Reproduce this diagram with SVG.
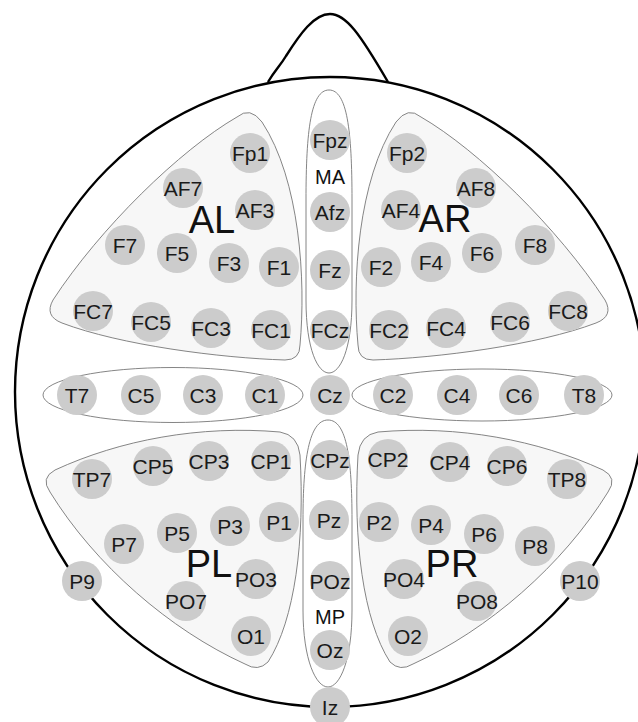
<svg xmlns="http://www.w3.org/2000/svg" width="638" height="722" viewBox="0 0 638 722">
<style>
.head{fill:none;stroke:#000;stroke-width:2.4}
.reg{fill:#f7f7f7;stroke:#777;stroke-width:0.9}
.regw{fill:#fff;stroke:#777;stroke-width:0.9}
.el circle{fill:#cccccc}
.el text{font-family:"Liberation Sans",Arial,sans-serif;font-size:21px;fill:#1a1a1a;text-anchor:middle}
.big{font-family:"Liberation Sans",Arial,sans-serif;font-size:38px;fill:#111;text-anchor:middle}
.mid{font-family:"Liberation Sans",Arial,sans-serif;font-size:20px;fill:#111;text-anchor:middle}
</style>
<rect width="638" height="722" fill="#fff"/>
<g id="head">
<path class="head" d="M 268,82 C 275,70 280,66 286,56 C 300,34 314,14 330,14 C 346,14 360,34 388,82"/>
<circle class="head" cx="330" cy="392" r="315"/>
</g>
<g id="region-AL"><path class="reg" d="M 237,117 C 180,150 100,228 53,300 Q 44,316 62,323 C 120,345 220,358 285,360 Q 300,360 300,345 C 306,280 300,180 262,122 Q 250,106 237,117 Z"/></g>
<g id="region-AR"><path class="reg" transform="translate(658,0) scale(-1,1)" d="M 237,117 C 180,150 100,228 53,300 Q 44,316 62,323 C 120,345 220,358 285,360 Q 300,360 300,345 C 306,280 300,180 262,122 Q 250,106 237,117 Z"/></g>
<g id="region-PL"><path class="reg" d="M 55,470 C 120,440 200,425 280,432 Q 298,435 300,455 C 305,540 295,620 268,662 Q 258,672 245,664 C 170,630 95,565 50,492 Q 40,478 55,470 Z"/></g>
<g id="region-PR"><path class="reg" transform="translate(658,0) scale(-1,1)" d="M 55,470 C 120,440 200,425 280,432 Q 298,435 300,455 C 305,540 295,620 268,662 Q 258,672 245,664 C 170,630 95,565 50,492 Q 40,478 55,470 Z"/></g>
<g id="region-MA"><path class="regw" d="M 329,90 C 347,90 352,130 352,200 L 352,300 C 352,350 340,373 329,373 C 318,373 306,350 306,300 L 306,200 C 306,130 311,90 329,90 Z"/></g>
<g id="region-MP"><path class="regw" d="M 328,420 C 347,420 352,460 352,520 L 352,610 C 352,660 340,687 328,687 C 316,687 303,660 303,610 L 303,520 C 303,460 309,420 328,420 Z"/></g>
<g id="region-CL"><ellipse class="regw" cx="173" cy="395" rx="130" ry="27.5"/></g>
<g id="region-CR"><ellipse class="regw" cx="482" cy="395" rx="130" ry="26"/></g>
<g id="labels">
<text class="big" x="212" y="233">AL</text>
<text class="big" x="445" y="232">AR</text>
<text class="big" x="209" y="577">PL</text>
<text class="big" x="452" y="577">PR</text>
<text class="mid" x="330" y="184">MA</text>
<text class="mid" x="330" y="624">MP</text>
</g>
<g id="connectors"/>
<g id="Fp1" class="el"><circle cx="250" cy="153" r="20"/><text x="250" y="160.5">Fp1</text></g>
<g id="Fpz" class="el"><circle cx="330" cy="140" r="20"/><text x="330" y="147.5">Fpz</text></g>
<g id="Fp2" class="el"><circle cx="407" cy="153" r="20"/><text x="407" y="160.5">Fp2</text></g>
<g id="AF7" class="el"><circle cx="183" cy="188" r="20"/><text x="183" y="195.5">AF7</text></g>
<g id="AF3" class="el"><circle cx="255" cy="210" r="20"/><text x="255" y="217.5">AF3</text></g>
<g id="Afz" class="el"><circle cx="330" cy="212" r="20"/><text x="330" y="219.5">Afz</text></g>
<g id="AF4" class="el"><circle cx="401" cy="210" r="20"/><text x="401" y="217.5">AF4</text></g>
<g id="AF8" class="el"><circle cx="476" cy="188" r="20"/><text x="476" y="195.5">AF8</text></g>
<g id="F7" class="el"><circle cx="125" cy="245" r="20"/><text x="125" y="252.5">F7</text></g>
<g id="F5" class="el"><circle cx="177" cy="253" r="20"/><text x="177" y="260.5">F5</text></g>
<g id="F3" class="el"><circle cx="229" cy="263" r="20"/><text x="229" y="270.5">F3</text></g>
<g id="F1" class="el"><circle cx="279" cy="267" r="20"/><text x="279" y="274.5">F1</text></g>
<g id="Fz" class="el"><circle cx="330" cy="270" r="20"/><text x="330" y="277.5">Fz</text></g>
<g id="F2" class="el"><circle cx="381" cy="267" r="20"/><text x="381" y="274.5">F2</text></g>
<g id="F4" class="el"><circle cx="431" cy="262" r="20"/><text x="431" y="269.5">F4</text></g>
<g id="F6" class="el"><circle cx="482" cy="253" r="20"/><text x="482" y="260.5">F6</text></g>
<g id="F8" class="el"><circle cx="535" cy="245" r="20"/><text x="535" y="252.5">F8</text></g>
<g id="FC7" class="el"><circle cx="93" cy="311" r="20"/><text x="93" y="318.5">FC7</text></g>
<g id="FC5" class="el"><circle cx="151" cy="322" r="20"/><text x="151" y="329.5">FC5</text></g>
<g id="FC3" class="el"><circle cx="211" cy="328" r="20"/><text x="211" y="335.5">FC3</text></g>
<g id="FC1" class="el"><circle cx="271" cy="330" r="20"/><text x="271" y="337.5">FC1</text></g>
<g id="FCz" class="el"><circle cx="330" cy="330" r="20"/><text x="330" y="337.5">FCz</text></g>
<g id="FC2" class="el"><circle cx="389" cy="330" r="20"/><text x="389" y="337.5">FC2</text></g>
<g id="FC4" class="el"><circle cx="446" cy="328" r="20"/><text x="446" y="335.5">FC4</text></g>
<g id="FC6" class="el"><circle cx="510" cy="322" r="20"/><text x="510" y="329.5">FC6</text></g>
<g id="FC8" class="el"><circle cx="568" cy="311" r="20"/><text x="568" y="318.5">FC8</text></g>
<g id="T7" class="el"><circle cx="77" cy="395" r="20"/><text x="77" y="402.5">T7</text></g>
<g id="C5" class="el"><circle cx="141" cy="395" r="20"/><text x="141" y="402.5">C5</text></g>
<g id="C3" class="el"><circle cx="203" cy="395" r="20"/><text x="203" y="402.5">C3</text></g>
<g id="C1" class="el"><circle cx="265" cy="395" r="20"/><text x="265" y="402.5">C1</text></g>
<g id="Cz" class="el"><circle cx="330" cy="395" r="20"/><text x="330" y="402.5">Cz</text></g>
<g id="C2" class="el"><circle cx="393" cy="395" r="20"/><text x="393" y="402.5">C2</text></g>
<g id="C4" class="el"><circle cx="457" cy="395" r="20"/><text x="457" y="402.5">C4</text></g>
<g id="C6" class="el"><circle cx="519" cy="395" r="20"/><text x="519" y="402.5">C6</text></g>
<g id="T8" class="el"><circle cx="584" cy="395" r="20"/><text x="584" y="402.5">T8</text></g>
<g id="TP7" class="el"><circle cx="92" cy="479" r="20"/><text x="92" y="486.5">TP7</text></g>
<g id="CP5" class="el"><circle cx="153" cy="466" r="20"/><text x="153" y="473.5">CP5</text></g>
<g id="CP3" class="el"><circle cx="209" cy="461" r="20"/><text x="209" y="468.5">CP3</text></g>
<g id="CP1" class="el"><circle cx="271" cy="461" r="20"/><text x="271" y="468.5">CP1</text></g>
<g id="CPz" class="el"><circle cx="330" cy="460" r="20"/><text x="330" y="467.5">CPz</text></g>
<g id="CP2" class="el"><circle cx="388" cy="459" r="20"/><text x="388" y="466.5">CP2</text></g>
<g id="CP4" class="el"><circle cx="450" cy="462" r="20"/><text x="450" y="469.5">CP4</text></g>
<g id="CP6" class="el"><circle cx="507" cy="466" r="20"/><text x="507" y="473.5">CP6</text></g>
<g id="TP8" class="el"><circle cx="567" cy="479" r="20"/><text x="567" y="486.5">TP8</text></g>
<g id="P7" class="el"><circle cx="124" cy="544" r="20"/><text x="124" y="551.5">P7</text></g>
<g id="P5" class="el"><circle cx="177" cy="533" r="20"/><text x="177" y="540.5">P5</text></g>
<g id="P3" class="el"><circle cx="230" cy="526" r="20"/><text x="230" y="533.5">P3</text></g>
<g id="P1" class="el"><circle cx="279" cy="522" r="20"/><text x="279" y="529.5">P1</text></g>
<g id="Pz" class="el"><circle cx="329" cy="520" r="20"/><text x="329" y="527.5">Pz</text></g>
<g id="P2" class="el"><circle cx="379" cy="522" r="20"/><text x="379" y="529.5">P2</text></g>
<g id="P4" class="el"><circle cx="431" cy="525" r="20"/><text x="431" y="532.5">P4</text></g>
<g id="P6" class="el"><circle cx="484" cy="534" r="20"/><text x="484" y="541.5">P6</text></g>
<g id="P8" class="el"><circle cx="535" cy="546" r="20"/><text x="535" y="553.5">P8</text></g>
<g id="P9" class="el"><circle cx="82" cy="581" r="20"/><text x="82" y="588.5">P9</text></g>
<g id="PO3" class="el"><circle cx="256" cy="579" r="20"/><text x="256" y="586.5">PO3</text></g>
<g id="POz" class="el"><circle cx="330" cy="581" r="20"/><text x="330" y="588.5">POz</text></g>
<g id="PO4" class="el"><circle cx="404" cy="579" r="20"/><text x="404" y="586.5">PO4</text></g>
<g id="P10" class="el"><circle cx="580" cy="581" r="20"/><text x="580" y="588.5">P10</text></g>
<g id="PO7" class="el"><circle cx="186" cy="601" r="20"/><text x="186" y="608.5">PO7</text></g>
<g id="PO8" class="el"><circle cx="477" cy="601" r="20"/><text x="477" y="608.5">PO8</text></g>
<g id="O1" class="el"><circle cx="251" cy="636" r="20"/><text x="251" y="643.5">O1</text></g>
<g id="Oz" class="el"><circle cx="330" cy="650" r="20"/><text x="330" y="657.5">Oz</text></g>
<g id="O2" class="el"><circle cx="408" cy="636" r="20"/><text x="408" y="643.5">O2</text></g>
<g id="Iz" class="el"><circle cx="330" cy="707" r="20"/><text x="330" y="714.5">Iz</text></g>
</svg>
